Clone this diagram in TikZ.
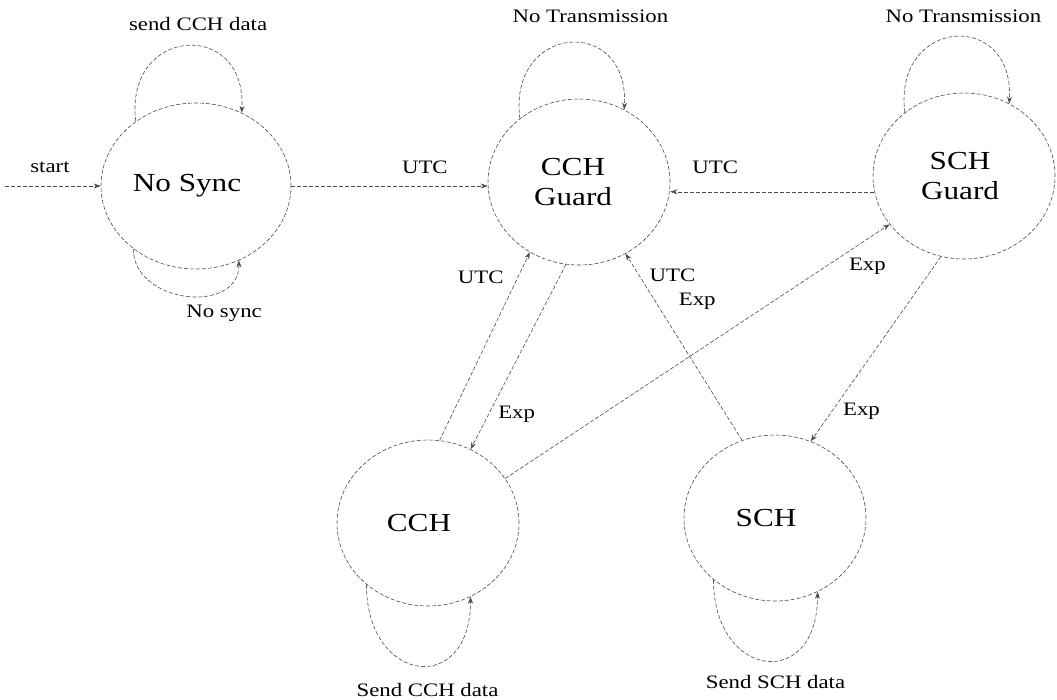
\documentclass[tikz,border=0pt]{standalone}
\usepackage{fontspec}
\setmainfont{Liberation Serif}[FakeStretch=1.2]
\usetikzlibrary{shapes.geometric,arrows.meta}
\begin{document}
\begin{tikzpicture}[x=1pt,y=-1pt,
  stnode/.style={ellipse, draw=black!70, line width=0.6pt, dash pattern=on 4pt off 2pt,
    minimum width=182pt, minimum height=166pt, inner sep=0pt},
  sttext/.style={align=center, inner sep=0pt, xshift=-9pt,
    font=\fontsize{26}{30}\selectfont},
  conn/.style={draw=black!70, line width=0.6pt, dash pattern=on 4pt off 2pt,
    -{Stealth[length=7pt,width=5pt]}},
  lbl/.style={font=\fontsize{19}{22}\selectfont, inner sep=0pt}]
\useasboundingbox (0,0) rectangle (1057,699);

\node[stnode, minimum width=190pt, label={[sttext]center:No Sync}] (NoSync) at (196,186) {};
\node[stnode, label={[sttext,xshift=3pt]center:{CCH\\Guard}}] (CCHG) at (579,182) {};
\node[stnode, label={[sttext,xshift=5pt]center:{SCH\\Guard}}] (SCHG) at (964,176) {};
\node[stnode, label={[sttext]center:CCH}] (CCH) at (428,523) {};
\node[stnode, label={[sttext]center:SCH}] (SCH) at (775,518) {};
\coordinate (s0) at (5,186);

% start
\draw[conn] (s0) -- node[lbl,pos=0.47,yshift=19pt]{start} (NoSync.west);

% loops
\draw[conn] (NoSync.133) .. controls +(-12,-95) and +(5,-95) ..
  node[lbl,pos=0.5,xshift=12pt,yshift=22pt]{send CCH data} (NoSync.58);
\draw[conn] (NoSync.225) .. controls +(0,55) and +(0,55) ..
  node[lbl,pos=0.5,xshift=38pt,yshift=-18pt]{No sync} (NoSync.300);
\draw[conn] (CCHG.133) .. controls +(-12,-95) and +(5,-95) ..
  node[lbl,pos=0.5,xshift=21pt,yshift=27pt]{No Transmission} (CCHG.58);
\draw[conn] (SCHG.133) .. controls +(-12,-95) and +(5,-95) ..
  node[lbl,pos=0.5,xshift=9pt,yshift=21pt]{No Transmission} (SCHG.58);
\draw[conn] (CCH.225) .. controls +(0,100) and +(0,100) ..
  node[lbl,pos=0.5,xshift=9pt,yshift=-24pt]{Send CCH data} (CCH.300);
\draw[conn] (SCH.225) .. controls +(0,100) and +(0,100) ..
  node[lbl,pos=0.5,xshift=10pt,yshift=-21pt]{Send SCH data} (SCH.300);

% transitions
\draw[conn] (NoSync.east) -- node[lbl,pos=0.68,yshift=19pt]{UTC} (NoSync.east -| CCHG.west);
\draw[conn] (SCHG.190) -- node[lbl,pos=0.78,yshift=25pt]{UTC} (SCHG.190 -| CCHG.east);
\draw[conn] (CCH.82) -- node[lbl,pos=0.866,xshift=-37pt]{UTC} (CCHG.235);
\draw[conn] (CCHG.261) -- node[lbl,pos=0.81,xshift=28pt]{Exp} (CCH.60);
\draw[conn] (CCH.30) -- node[lbl,pos=0.95,xshift=-3pt,yshift=-29pt]{Exp} (SCHG.213);
\draw[conn] (SCHG.254) -- node[lbl,pos=0.856,xshift=32pt,yshift=3pt]{Exp} (SCH.65);
\draw[conn] (SCH.113) -- node[lbl,pos=0.745,xshift=42pt]{Exp}
  node[lbl,pos=0.897,xshift=35pt,yshift=-2pt]{UTC} (CCHG.303);
\end{tikzpicture}
\end{document}
